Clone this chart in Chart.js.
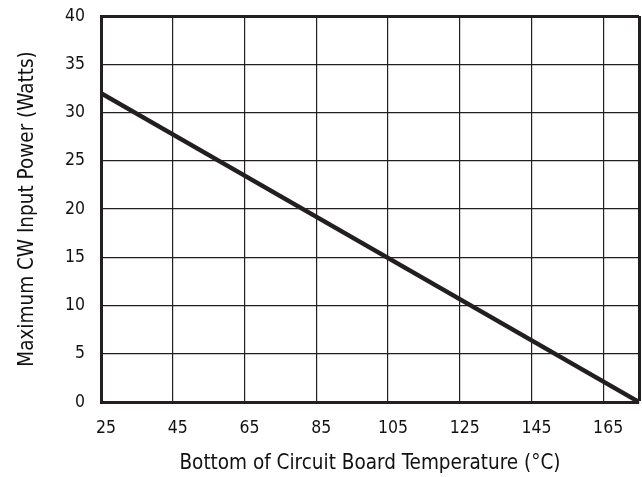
<!DOCTYPE html>
<html lang="en">
<head>
<meta charset="UTF-8">
<title>CW Input Power</title>
<script src="https://cdn.jsdelivr.net/npm/chart.js"></script>
<style>
  body { margin: 0; background: #fff; }
</style>
</head>
<body>
<canvas id="power" width="642" height="477"></canvas>
<script>
// data
var temps = [25, 175];
var powers = [32, 0];
var xTicks = [25, 45, 65, 85, 105, 125, 145, 165, 175];
var yTicks = [0, 5, 10, 15, 20, 25, 30, 35, 40];

var fontFam = "'Liberation Sans Narrow', 'DejaVu Sans Condensed', 'Liberation Sans', sans-serif";

var ctx = document.getElementById('power').getContext('2d');
var chart = new Chart(ctx, {
  type: 'line',
  data: {
    datasets: [{
      data: temps.map(function (t, i) { return { x: t, y: powers[i] }; }),
      borderColor: '#231f20',
      borderWidth: 4.5,
      pointRadius: 0,
      fill: false
    }]
  },
  options: {
    responsive: false,
    animation: false,
    layout: { padding: { left: 0, right: 3, top: 16, bottom: 0 } },
    plugins: { legend: { display: false }, tooltip: { enabled: false } },
    scales: {
      x: {
        type: 'linear',
        min: 25,
        max: 175,
        afterBuildTicks: function (scale) {
          scale.ticks = xTicks.map(function (v) { return { value: v }; });
        },
        afterFit: function (scale) {
          scale.height = 75;
          scale.paddingLeft = 0;
          scale.paddingRight = 0;
        },
        grid: {
          drawTicks: false,
          color: '#231f20',
          lineWidth: function (c) { return c.tick && c.tick.value === 175 ? 3 : 1.2; }
        },
        border: { display: true, color: '#231f20', width: 3 },
        ticks: {
          padding: 16,
          labelOffset: 5,
          color: '#111',
          font: { family: fontFam, size: 17.5 },
          callback: function (v) { return v === 175 ? '' : v; }
        },
        title: {
          display: true,
          text: 'Bottom of Circuit Board Temperature (°C)',
          color: '#111',
          font: { family: fontFam, size: 20.5 },
          padding: { top: 0, bottom: 1 }
        }
      },
      y: {
        min: 0,
        max: 40,
        afterBuildTicks: function (scale) {
          scale.ticks = yTicks.map(function (v) { return { value: v }; });
        },
        afterFit: function (scale) {
          scale.width = 101;
          scale.paddingTop = 0;
          scale.paddingBottom = 0;
        },
        grid: {
          drawTicks: false,
          color: '#231f20',
          lineWidth: function (c) { return c.tick && c.tick.value === 40 ? 3 : 1.2; }
        },
        border: { display: true, color: '#231f20', width: 3 },
        ticks: {
          padding: 16,
          color: '#111',
          font: { family: fontFam, size: 17.5 }
        },
        title: {
          display: true,
          text: 'Maximum CW Input Power (Watts)',
          color: '#111',
          font: { family: fontFam, size: 20.5 },
          padding: { top: 15, bottom: 0 }
        }
      }
    }
  }
});
</script>
</body>
</html>
